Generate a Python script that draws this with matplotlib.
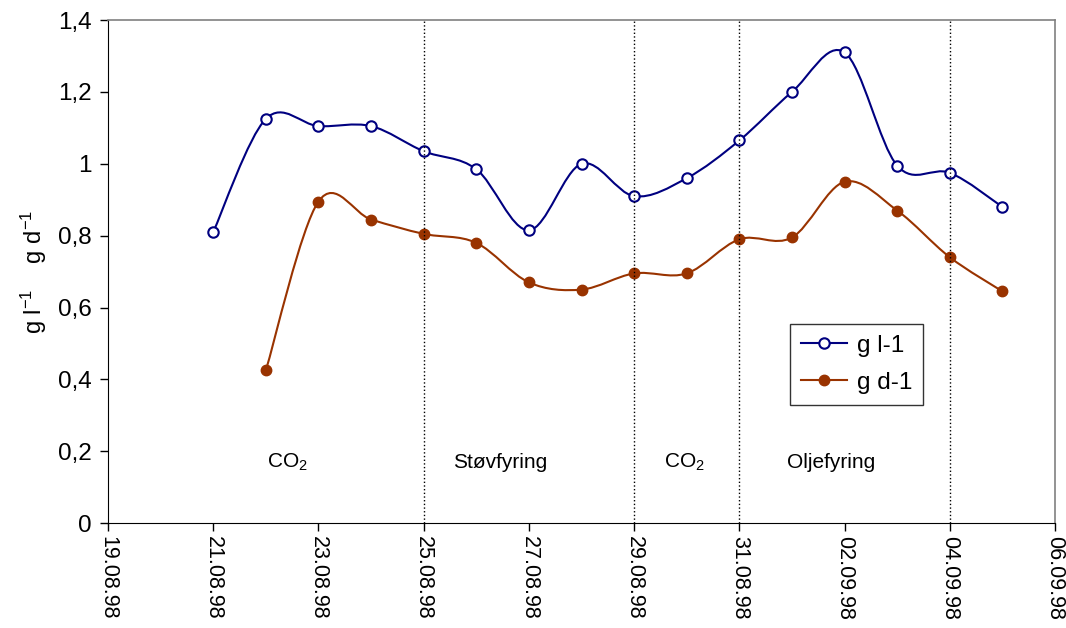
import numpy as np
import pandas as pd
import matplotlib
matplotlib.use("Agg")
import matplotlib.pyplot as plt
import matplotlib.dates as mdates
from matplotlib.path import Path
from matplotlib.patches import PathPatch
from matplotlib.lines import Line2D

plt.rcParams["font.family"] = ["Liberation Sans", "DejaVu Sans"]
plt.rcParams["mathtext.fontset"] = "custom"
plt.rcParams["mathtext.rm"] = "Liberation Sans"
plt.rcParams["mathtext.it"] = "Liberation Sans"

# data
dates_l = pd.date_range("1998-08-21", "1998-09-05", freq="D")
g_l = [0.81, 1.125, 1.105, 1.105, 1.035, 0.985, 0.815, 1.0,
       0.91, 0.96, 1.065, 1.2, 1.31, 0.995, 0.975, 0.88]

dates_d = pd.date_range("1998-08-22", "1998-09-05", freq="D")
g_d = [0.425, 0.895, 0.845, 0.805, 0.78, 0.67, 0.65, 0.695,
       0.695, 0.79, 0.795, 0.95, 0.87, 0.74, 0.645]

phase_lines = ["1998-08-25", "1998-08-29", "1998-08-31", "1998-09-04"]
phase_labels = ["CO$_2$", "Støvfyring", "CO$_2$", "Oljefyring"]
phase_label_x = ["1998-08-22 10:00", "1998-08-26 11:00", "1998-08-29 23:00", "1998-09-01 18:00"]

blue = "#000080"
brown = "#993300"


def smooth_path(x, y):
    # excel-style smoothed line: cubic bezier through every point
    x = np.asarray(x, float)
    y = np.asarray(y, float)
    verts = [(x[0], y[0])]
    codes = [Path.MOVETO]
    n = len(x)
    for i in range(n - 1):
        i0 = max(i - 1, 0)
        i3 = min(i + 2, n - 1)
        c1 = (x[i] + (x[i + 1] - x[i0]) / 6, y[i] + (y[i + 1] - y[i0]) / 6)
        c2 = (x[i + 1] - (x[i3] - x[i]) / 6, y[i + 1] - (y[i3] - y[i]) / 6)
        verts += [c1, c2, (x[i + 1], y[i + 1])]
        codes += [Path.CURVE4] * 3
    return Path(verts, codes)


fig = plt.figure(figsize=(10.66, 6.28), dpi=100)
ax = fig.add_axes([0.1013, 0.167, 0.8884, 0.801])

xl = mdates.date2num(dates_l)
xd = mdates.date2num(dates_d)

ax.add_patch(PathPatch(smooth_path(xl, g_l), fill=False, edgecolor=blue, lw=1.5))
ax.add_patch(PathPatch(smooth_path(xd, g_d), fill=False, edgecolor=brown, lw=1.5))
ax.plot(xl, g_l, "o", color=blue, mfc="white", mec=blue, ms=7.5, mew=1.5)
ax.plot(xd, g_d, "o", color=brown, mfc=brown, mec=brown, ms=7.5)

for d in phase_lines:
    ax.axvline(mdates.date2num(pd.Timestamp(d)), color="black", ls=":", lw=1)

for lab, d in zip(phase_labels, phase_label_x):
    ax.text(mdates.date2num(pd.Timestamp(d)), 0.17, lab, ha="center", va="center", fontsize=15)

ax.set_xlim(mdates.date2num(pd.Timestamp("1998-08-19")), mdates.date2num(pd.Timestamp("1998-09-06")))
ax.set_ylim(0, 1.4)
ticks = pd.date_range("1998-08-19", "1998-09-06", freq="2D")
ax.set_xticks(mdates.date2num(ticks))
ax.set_xticklabels([t.strftime("%d.%m.%y") for t in ticks], rotation=-90, fontsize=15.5)
ax.set_yticks(np.arange(0, 1.41, 0.2))
ax.set_yticklabels(["0", "0,2", "0,4", "0,6", "0,8", "1", "1,2", "1,4"], fontsize=17.5)
ax.tick_params(direction="out", length=6, width=1)
ax.tick_params(axis="y", pad=6)

ax.spines["top"].set_color("#808080")
ax.spines["right"].set_color("#808080")
ax.spines["top"].set_linewidth(1.2)
ax.spines["right"].set_linewidth(1.2)

ax.set_ylabel("g l$^{-1}$    g d$^{-1}$", fontsize=17, labelpad=6)

handles = [
    Line2D([], [], color=blue, lw=1.5, marker="o", mfc="white", mec=blue, ms=7.5, mew=1.5),
    Line2D([], [], color=brown, lw=1.5, marker="o", mfc=brown, mec=brown, ms=7.5),
]
leg = fig.legend(handles, ["g l-1", "g d-1"], loc="upper left",
                 bbox_to_anchor=(0.741, 0.484), borderaxespad=0, fontsize=17.5,
                 frameon=True, fancybox=False, edgecolor="black", handlelength=1.9,
                 borderpad=0.45, labelspacing=0.6, handletextpad=0.4)
leg.get_frame().set_linewidth(1)

fig.savefig("out.png", dpi=100)
